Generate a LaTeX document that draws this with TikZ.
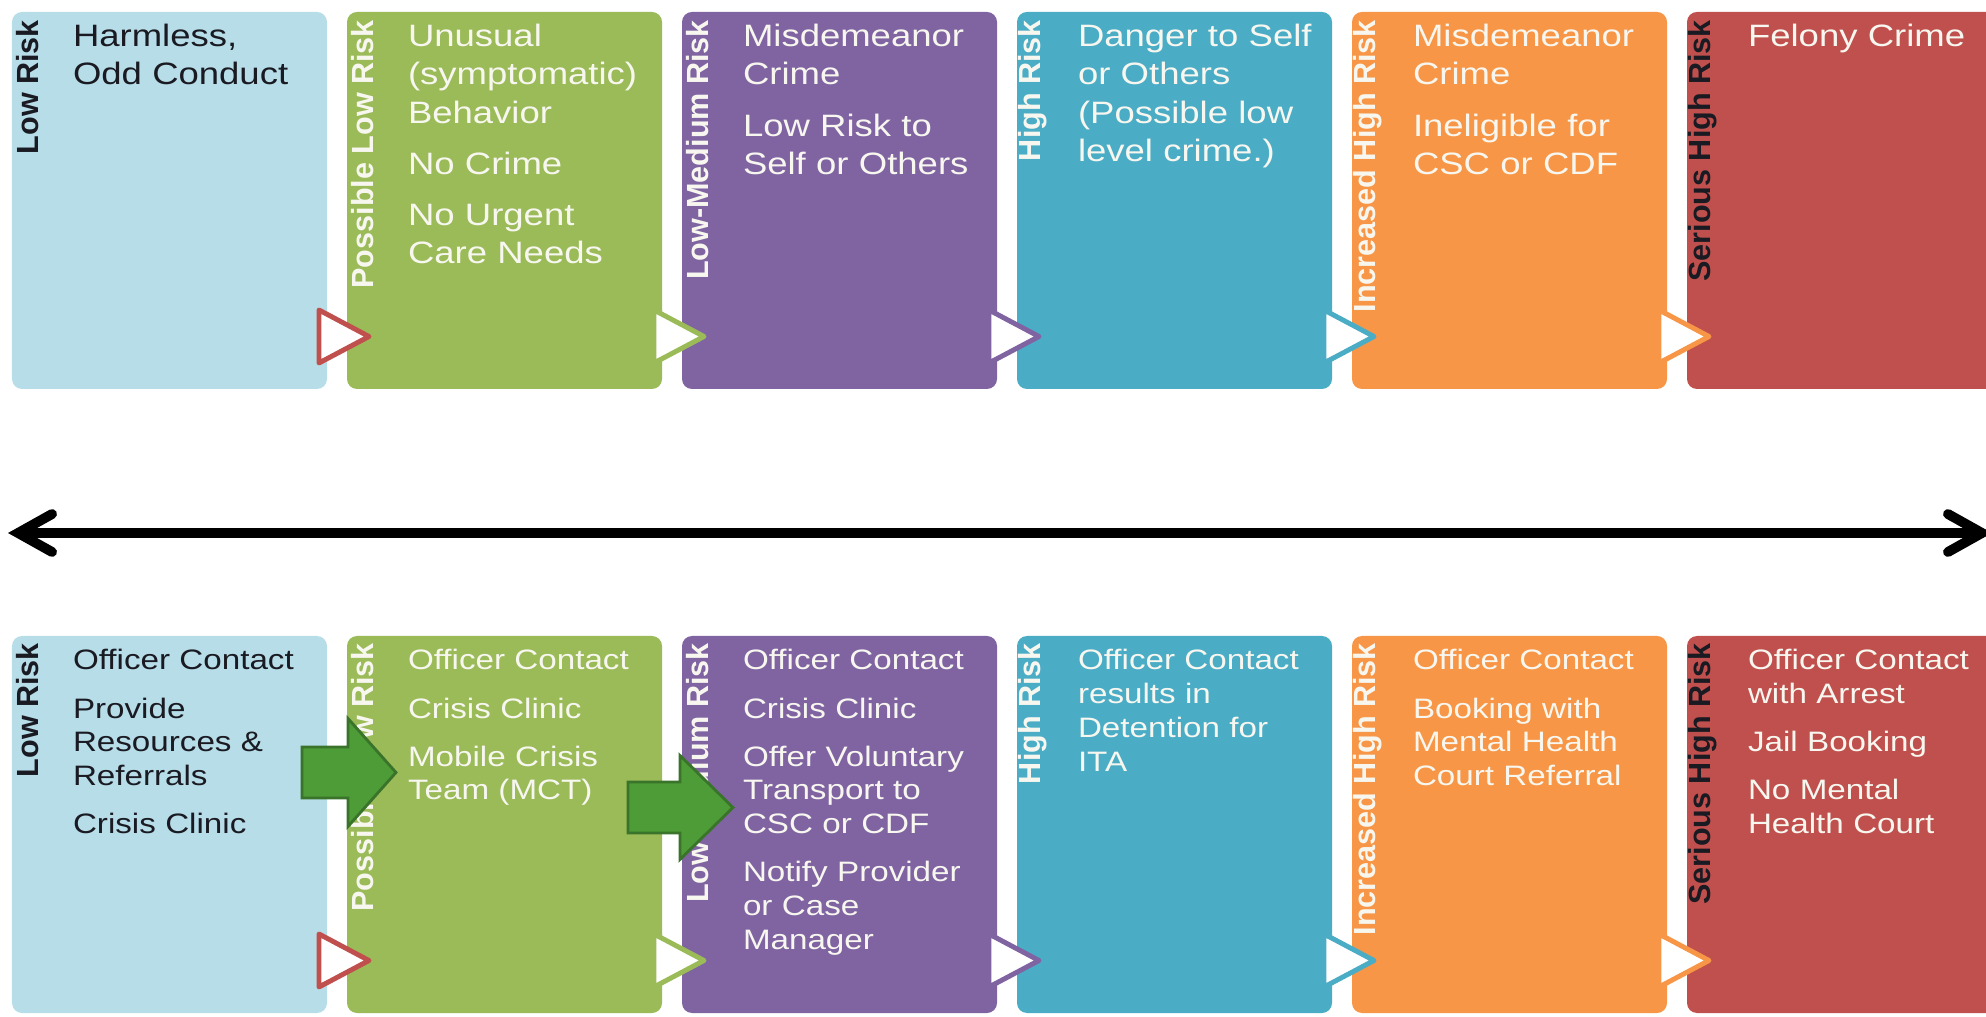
\documentclass[tikz,border=0pt]{standalone}
\usepackage{fontspec}
\setmainfont{Liberation Sans}
\newfontfamily\widefont[FakeStretch=1.18]{Liberation Sans}
\usepackage{tikz}
\usetikzlibrary{positioning,calc,arrows.meta}

\definecolor{lowblue}{HTML}{B7DDE8}
\definecolor{possgreen}{HTML}{9BBB59}
\definecolor{lowmedpurple}{HTML}{8064A2}
\definecolor{highteal}{HTML}{4BACC6}
\definecolor{incrorange}{HTML}{F79646}
\definecolor{seriousred}{HTML}{C0504D}
\definecolor{lighttext}{HTML}{F7F7F0}
\definecolor{darktext}{HTML}{1A1A22}
\definecolor{pushgreen}{HTML}{4E9C37}
\definecolor{pushedge}{HTML}{3A742A}

\begin{document}
\begin{tikzpicture}[node distance=0cm, outer sep=0pt,
    box/.style={rectangle, rounded corners=0.1cm, minimum width=3.15cm, minimum height=3.77cm, inner sep=0pt},
    risk/.style={rotate=90, anchor=east, inner sep=0pt, font=\fontsize{8.7}{9}\selectfont\bfseries},
    toptext/.style={anchor=north west, align=left, text width=2.5cm, inner sep=0pt, font=\widefont\fontsize{8.8}{10.9}\selectfont},
    bottext/.style={anchor=north west, align=left, text width=2.5cm, inner sep=0pt, font=\widefont\fontsize{8}{9.6}\selectfont},
    tri/.style={line width=1.4pt, fill=white, line join=round},
    push/.style={fill=pushgreen, draw=pushedge, line width=0.8pt, line join=miter}]
    \useasboundingbox (0,0) rectangle (19.86,-10.17);
    \clip (0,0) rectangle (19.86,-10.17);

    % top row: situation
    \node [box, fill=lowblue, anchor=north west] (low) at (0.12,-0.12) {};
    \node [box, fill=possgreen, right=0.2cm of low] (poss) {};
    \node [box, fill=lowmedpurple, right=0.2cm of poss] (lowmed) {};
    \node [box, fill=highteal, right=0.2cm of lowmed] (high) {};
    \node [box, fill=incrorange, right=0.2cm of high] (incr) {};
    \node [box, fill=seriousred, right=0.2cm of incr] (serious) {};

    % bottom row: response
    \node [box, fill=lowblue, below=2.47cm of low] (lowb) {};
    \node [box, fill=possgreen, right=0.2cm of lowb] (possb) {};
    \node [box, fill=lowmedpurple, right=0.2cm of possb] (lowmedb) {};
    \node [box, fill=highteal, right=0.2cm of lowmedb] (highb) {};
    \node [box, fill=incrorange, right=0.2cm of highb] (incrb) {};
    \node [box, fill=seriousred, right=0.2cm of incrb] (seriousb) {};

    % triangles on the borders
    \draw [tri, draw=seriousred] ([shift={(-0.08,0.79)}]low.south east) -- ++(0,-0.53) -- ++(0.5,0.265) -- cycle;
    \draw [tri, draw=possgreen] ([shift={(-0.08,0.79)}]poss.south east) -- ++(0,-0.53) -- ++(0.5,0.265) -- cycle;
    \draw [tri, draw=lowmedpurple] ([shift={(-0.08,0.79)}]lowmed.south east) -- ++(0,-0.53) -- ++(0.5,0.265) -- cycle;
    \draw [tri, draw=highteal] ([shift={(-0.08,0.79)}]high.south east) -- ++(0,-0.53) -- ++(0.5,0.265) -- cycle;
    \draw [tri, draw=incrorange] ([shift={(-0.08,0.79)}]incr.south east) -- ++(0,-0.53) -- ++(0.5,0.265) -- cycle;
    \draw [tri, draw=seriousred] ([shift={(-0.08,0.79)}]lowb.south east) -- ++(0,-0.53) -- ++(0.5,0.265) -- cycle;
    \draw [tri, draw=possgreen] ([shift={(-0.08,0.79)}]possb.south east) -- ++(0,-0.53) -- ++(0.5,0.265) -- cycle;
    \draw [tri, draw=lowmedpurple] ([shift={(-0.08,0.79)}]lowmedb.south east) -- ++(0,-0.53) -- ++(0.5,0.265) -- cycle;
    \draw [tri, draw=highteal] ([shift={(-0.08,0.79)}]highb.south east) -- ++(0,-0.53) -- ++(0.5,0.265) -- cycle;
    \draw [tri, draw=incrorange] ([shift={(-0.08,0.79)}]incrb.south east) -- ++(0,-0.53) -- ++(0.5,0.265) -- cycle;

    % side labels
    \node [risk, text=darktext] (lowlab) at ([shift={(0.16,-0.08)}]low.north west) {Low Risk};
    \node [risk, text=lighttext] (posslab) at ([shift={(0.16,-0.08)}]poss.north west) {Possible Low Risk};
    \node [risk, text=lighttext] (lowmedlab) at ([shift={(0.16,-0.08)}]lowmed.north west) {Low-Medium Risk};
    \node [risk, text=lighttext] (highlab) at ([shift={(0.16,-0.08)}]high.north west) {High Risk};
    \node [risk, text=lighttext] (incrlab) at ([shift={(0.16,-0.08)}]incr.north west) {Increased High Risk};
    \node [risk, text=darktext] (seriouslab) at ([shift={(0.16,-0.08)}]serious.north west) {Serious High Risk};
    \node [risk, text=darktext] (lowblab) at ([shift={(0.16,-0.07)}]lowb.north west) {Low Risk};
    \node [risk, text=lighttext] (possblab) at ([shift={(0.16,-0.07)}]possb.north west) {Possible Low Risk};
    \node [risk, text=lighttext] (lowmedblab) at ([shift={(0.16,-0.07)}]lowmedb.north west) {Low-Medium Risk};
    \node [risk, text=lighttext] (highblab) at ([shift={(0.16,-0.07)}]highb.north west) {High Risk};
    \node [risk, text=lighttext] (incrblab) at ([shift={(0.16,-0.07)}]incrb.north west) {Increased High Risk};
    \node [risk, text=darktext] (seriousblab) at ([shift={(0.16,-0.07)}]seriousb.north west) {Serious High Risk};

    % box texts
    \node [toptext, text=darktext] (lowtxt) at ([shift={(0.61,-0.12)}]low.north west) {Harmless,\\Odd Conduct};
    \node [toptext, text=lighttext] (posstxt) at ([shift={(0.61,-0.12)}]poss.north west) {Unusual\\(symptomatic)\\Behavior\\[3.7pt]No Crime\\[3.7pt]No Urgent\\Care Needs};
    \node [toptext, text=lighttext] (lowmedtxt) at ([shift={(0.61,-0.12)}]lowmed.north west) {Misdemeanor\\Crime\\[3.7pt]Low Risk to\\Self or Others};
    \node [toptext, text=lighttext] (hightxt) at ([shift={(0.61,-0.12)}]high.north west) {Danger to Self\\or Others\\(Possible low\\level crime.)};
    \node [toptext, text=lighttext] (incrtxt) at ([shift={(0.61,-0.12)}]incr.north west) {Misdemeanor\\Crime\\[3.7pt]Ineligible for\\CSC or CDF};
    \node [toptext, text=lighttext] (serioustxt) at ([shift={(0.61,-0.12)}]serious.north west) {Felony Crime};

    \node [bottext, text=darktext] (lowbtxt) at ([shift={(0.61,-0.135)}]lowb.north west) {Officer Contact\\[4.1pt]Provide\\Resources \&\\Referrals\\[4.1pt]Crisis Clinic};
    \node [bottext, text=lighttext] (possbtxt) at ([shift={(0.61,-0.135)}]possb.north west) {Officer Contact\\[4.1pt]Crisis Clinic\\[4.1pt]Mobile Crisis\\Team (MCT)};
    \node [bottext, text=lighttext] (lowmedbtxt) at ([shift={(0.61,-0.135)}]lowmedb.north west) {Officer Contact\\[4.1pt]Crisis Clinic\\[4.1pt]Offer Voluntary\\Transport to\\CSC or CDF\\[4.1pt]Notify Provider\\or Case\\Manager};
    \node [bottext, text=lighttext] (highbtxt) at ([shift={(0.61,-0.135)}]highb.north west) {Officer Contact\\results in\\Detention for\\ITA};
    \node [bottext, text=lighttext] (incrbtxt) at ([shift={(0.61,-0.135)}]incrb.north west) {Officer Contact\\[4.1pt]Booking with\\Mental Health\\Court Referral};
    \node [bottext, text=lighttext] (seriousbtxt) at ([shift={(0.61,-0.135)}]seriousb.north west) {Officer Contact\\with Arrest\\[4.1pt]Jail Booking\\[4.1pt]No Mental\\Health Court};

    % risk scale
    \coordinate (leftend) at (0.08,-5.33);
    \coordinate (rightend) at (19.92,-5.33);
    \draw [line width=2.8pt, {Straight Barb[length=3.4mm,width=3.8mm,line cap=round]}-{Straight Barb[length=3.4mm,width=3.8mm,line cap=round]}] (leftend) -- (rightend);

    % green push arrows
    \draw [push] (3.02,-7.47) -- (3.48,-7.47) -- (3.48,-7.185) -- (3.96,-7.725) -- (3.48,-8.265) -- (3.48,-7.98) -- (3.02,-7.98) -- cycle;
    \draw [push] (6.28,-7.82) -- (6.80,-7.82) -- (6.80,-7.555) -- (7.33,-8.075) -- (6.80,-8.595) -- (6.80,-8.33) -- (6.28,-8.33) -- cycle;
\end{tikzpicture}
\end{document}
